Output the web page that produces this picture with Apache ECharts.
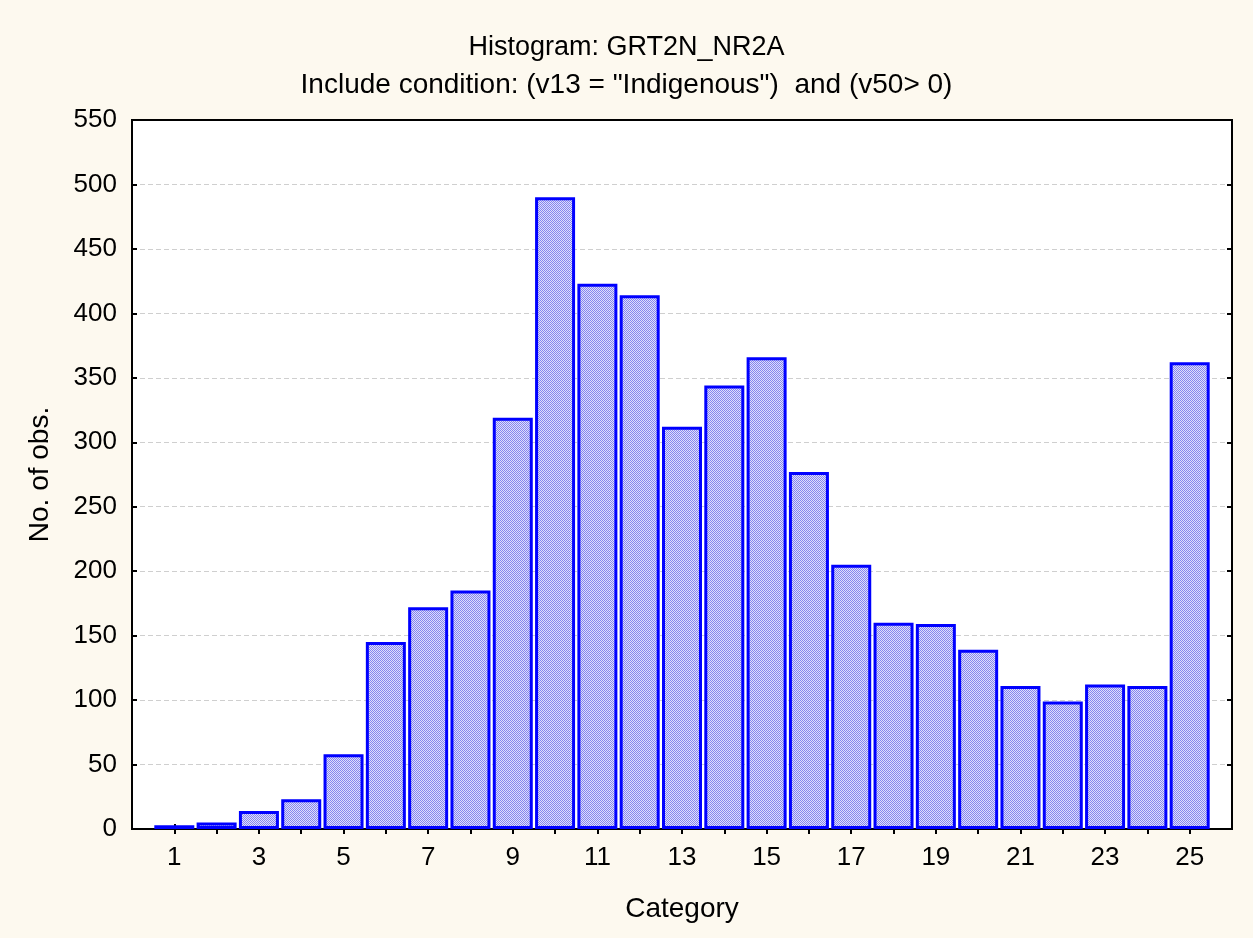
<!DOCTYPE html>
<html>
<head>
<meta charset="utf-8">
<script src="https://cdn.jsdelivr.net/npm/echarts@6/dist/echarts.min.js"></script>
<style>
  html, body { margin: 0; padding: 0; background: #fdf9ef; }
  #chart { width: 1253px; height: 938px; }
</style>
</head>
<body>
<div id="chart"></div>
<script>
// histogram data
const categories = [1, 2, 3, 4, 5, 6, 7, 8, 9, 10, 11, 12, 13, 14, 15, 16, 17, 18, 19, 20, 21, 22, 23, 24, 25];
const counts = [3, 5, 14, 23, 58, 145, 172, 185, 319, 490, 423, 414, 312, 344, 366, 277, 205, 160, 159, 139, 111, 99, 112, 111, 362];
const yTicks = { min: 0, max: 550, step: 50 };

// axis runs one step past each end so bars sit on the integer positions
const axisCats = [];
for (let i = 0; i <= categories.length + 1; i++) axisCats.push(String(i));

// dotted fill like the original
const pat = document.createElement('canvas');
pat.width = 2; pat.height = 2;
const pc = pat.getContext('2d');
pc.fillStyle = '#dedefb'; pc.fillRect(0, 0, 2, 2);
pc.fillStyle = '#8585ef'; pc.fillRect(0, 0, 1, 1); pc.fillRect(1, 1, 1, 1);

const font = 'Liberation Sans, Arial, sans-serif';
const chart = echarts.init(document.getElementById('chart'));

const onAxis = (i) => i > 0 && i <= categories.length;

const option = {
  backgroundColor: '#fdf9ef',
  animation: false,
  title: [
    { text: 'Histogram: GRT2N_NR2A', left: 'center', top: 29,
      textStyle: { fontFamily: font, fontSize: 27, fontWeight: 'normal', color: '#000' } },
    { text: 'Include condition: (v13 = "Indigenous")  and (v50> 0)', left: 'center', top: 66,
      textStyle: { fontFamily: font, fontSize: 28, fontWeight: 'normal', color: '#000' } }
  ],
  grid: {
    left: 132, right: 21, top: 120, bottom: 109,
    show: true, backgroundColor: '#fff', borderColor: '#000', borderWidth: 2
  },
  xAxis: [
    {
      type: 'category', data: axisCats, boundaryGap: false,
      name: 'Category', nameLocation: 'middle', nameGap: 66,
      nameTextStyle: { fontFamily: font, fontSize: 28, color: '#000' },
      axisLine: { lineStyle: { color: '#000', width: 2 } },
      axisTick: { inside: true, length: 5, lineStyle: { color: '#000', width: 2 }, interval: onAxis },
      axisLabel: { fontFamily: font, fontSize: 26, color: '#000', margin: 16,
        interval: (i) => onAxis(i) && i % 2 === 1 },
      splitLine: { show: false }
    },
    {
      type: 'category', data: axisCats, boundaryGap: false, position: 'top',
      axisLine: { lineStyle: { color: '#000', width: 2 } },
      axisTick: { inside: true, length: 5, lineStyle: { color: '#000', width: 2 }, interval: onAxis },
      axisLabel: { show: false }
    }
  ],
  yAxis: [
    {
      type: 'value', min: yTicks.min, max: yTicks.max, interval: yTicks.step,
      name: 'No. of obs.', nameLocation: 'middle', nameGap: 78,
      nameTextStyle: { fontFamily: font, fontSize: 28, color: '#000' },
      axisLine: { show: true, lineStyle: { color: '#000', width: 2 } },
      axisTick: { show: true, inside: true, length: 5, lineStyle: { color: '#000', width: 2 } },
      axisLabel: { fontFamily: font, fontSize: 26, color: '#000', margin: 15 },
      splitLine: { show: true, showMinLine: false, showMaxLine: false,
        lineStyle: { color: '#cfcfcf', type: [5, 3], width: 1 } }
    },
    {
      type: 'value', min: yTicks.min, max: yTicks.max, interval: yTicks.step, position: 'right',
      axisLine: { show: true, lineStyle: { color: '#000', width: 2 } },
      axisTick: { show: true, inside: true, length: 5, lineStyle: { color: '#000', width: 2 } },
      axisLabel: { show: false },
      splitLine: { show: false }
    }
  ],
  series: [
    {
      type: 'bar',
      xAxisIndex: 0, yAxisIndex: 0,
      barWidth: 40,
      data: categories.map((c, i) => [String(c), counts[i]]),
      itemStyle: {
        color: { image: pat, repetition: 'repeat' },
        borderColor: '#0000ff', borderWidth: 3
      }
    }
  ]
};

chart.setOption(option);
</script>
</body>
</html>
